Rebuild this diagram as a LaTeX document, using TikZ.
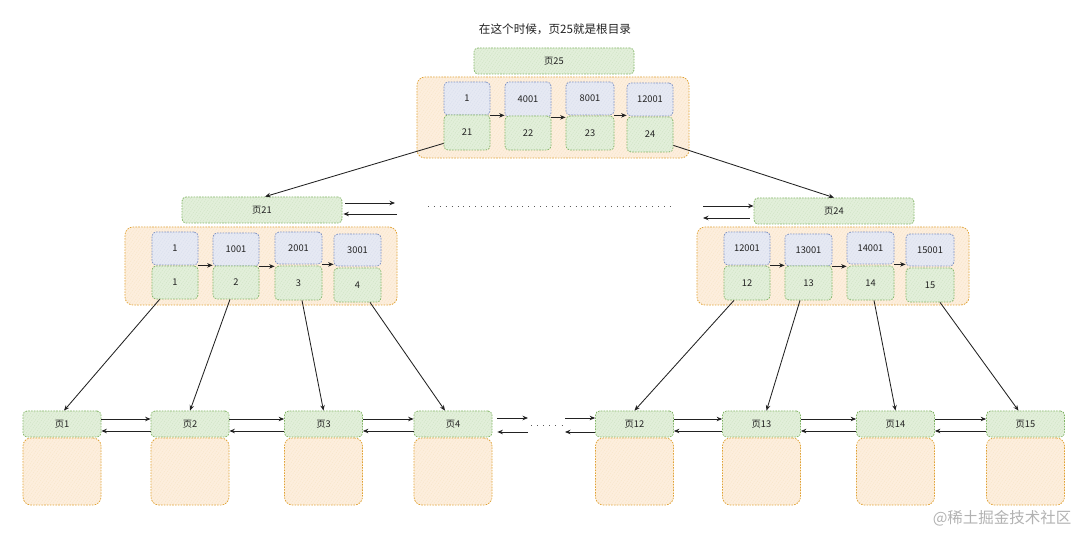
\documentclass[tikz,border=0pt]{standalone}
\usepackage{fontspec}
\setmainfont{Noto Sans CJK SC}
\usetikzlibrary{arrows.meta,patterns.meta}
\definecolor{gfill}{HTML}{E2EFDA}
\definecolor{gdraw}{HTML}{7FB362}
\definecolor{bfill}{HTML}{E6E9F3}
\definecolor{bdraw}{HTML}{7A8EC0}
\definecolor{ofill}{HTML}{FDEEDD}
\definecolor{odraw}{HTML}{E0A030}
\definecolor{ink}{HTML}{222222}
\tikzset{
  sk/.style={rounded corners=4pt,line width=0.75pt,dash pattern=on 1.6pt off 1.2pt,inner sep=0pt,font=\fontsize{9.3}{11}\selectfont,text=ink},
  gbox/.style={sk,draw=gdraw,fill=gfill,postaction={pattern={Lines[angle=55,distance=2.6pt,line width=0.35pt]},pattern color=gdraw!40}},
  bbox/.style={sk,draw=bdraw,fill=bfill,postaction={pattern={Lines[angle=55,distance=2.6pt,line width=0.35pt]},pattern color=bdraw!30}},
  obox/.style={sk,rounded corners=8pt,draw=odraw,fill=ofill,postaction={pattern={Lines[angle=55,distance=2.6pt,line width=0.35pt]},pattern color=odraw!28}},
  arr/.style={-{Stealth[length=5.5pt,width=4.5pt]},line width=0.85pt,draw=ink},
  dots/.style={line width=1pt,draw=black!65,dash pattern=on 1pt off 4.9pt},
}
\newcommand\bx[7]{\node[#1,minimum width=#5pt,minimum height=#6pt] (#2) at (#3,#4) {#7};}
\begin{document}
\begin{tikzpicture}[x=1pt,y=-1pt]
\useasboundingbox (0,0) rectangle (1080,534);
% title
\node[font=\fontsize{11.6}{13}\selectfont,text=ink] (title) at (555,29) {在这个时候，页25就是根目录};
% root page
\bx{gbox}{p25}{554}{61}{160}{26}{页25}
\bx{obox}{c0}{553}{117.5}{272}{81}{}
\bx{bbox}{k1}{467}{98.5}{46}{33}{1}
\bx{bbox}{k2}{528}{99.5}{46}{35}{4001}
\bx{bbox}{k3}{590}{98.5}{48}{33}{8001}
\bx{bbox}{k4}{650}{99.5}{46}{33}{12001}
\bx{gbox}{g21}{467}{132.5}{46}{35}{21}
\bx{gbox}{g22}{528}{133}{46}{34}{22}
\bx{gbox}{g23}{590}{133}{48}{34}{23}
\bx{gbox}{g24}{650}{134.5}{46}{35}{24}
\draw[arr] (k1.south east) -- (k1.south east -| k2.west);
\draw[arr] (k2.south east) -- (k2.south east -| k3.west);
\draw[arr] (k3.south east) -- (k3.south east -| k4.west);
% level 2 left
\bx{gbox}{p21}{262}{210}{160}{26}{页21}
\bx{obox}{cl}{261}{266}{272}{78}{}
\bx{bbox}{kl1}{175}{248.5}{46}{33}{1}
\bx{bbox}{kl2}{236}{249.5}{46}{33}{1001}
\bx{bbox}{kl3}{298.5}{248}{47}{32}{2001}
\bx{bbox}{kl4}{357.5}{250}{47}{32}{3001}
\bx{gbox}{gl1}{175}{282.5}{46}{33}{1}
\bx{gbox}{gl2}{236}{282.5}{46}{33}{2}
\bx{gbox}{gl3}{298.5}{283}{47}{34}{3}
\bx{gbox}{gl4}{357.5}{285}{47}{34}{4}
\draw[arr] (kl1.south east) -- (kl1.south east -| kl2.west);
\draw[arr] (kl2.south east) -- (kl2.south east -| kl3.west);
\draw[arr] (kl3.south east) -- (kl3.south east -| kl4.west);
% level 2 right
\bx{gbox}{p24}{834}{211}{160}{26}{页24}
\bx{obox}{cr}{833}{266}{272}{78}{}
\bx{bbox}{kr1}{747}{248.5}{46}{33}{12001}
\bx{bbox}{kr2}{808.5}{250}{47}{32}{13001}
\bx{bbox}{kr3}{870.5}{248}{47}{32}{14001}
\bx{bbox}{kr4}{930}{250}{48}{32}{15001}
\bx{gbox}{gr12}{747}{283}{46}{34}{12}
\bx{gbox}{gr13}{808.5}{283}{47}{34}{13}
\bx{gbox}{gr14}{870.5}{283}{47}{34}{14}
\bx{gbox}{gr15}{930}{285}{48}{34}{15}
\draw[arr] (kr1.south east) -- (kr1.south east -| kr2.west);
\draw[arr] (kr2.south east) -- (kr2.south east -| kr3.west);
\draw[arr] (kr3.south east) -- (kr3.south east -| kr4.west);
% side arrows level 2
\coordinate (l2a) at (395,203);
\coordinate (l2b) at (397,214);
\coordinate (r2a) at (703,206);
\coordinate (r2b) at (703,218);
\draw[arr] (p21.east |- l2a) ++(3,0) -- (l2a);
\draw[arr] (l2b) -- ([xshift=1pt]p21.east |- l2b);
\draw[arr] (r2a) -- (r2a -| p24.west);
\draw[arr] (r2b -| p24.west) ++(-4,0) -- (r2b);
\coordinate (d1) at (428,207);
\coordinate (d2) at (672,207);
\draw[dots] (d1) -- (d2);
% root to level 2
\draw[arr] ([yshift=7pt]g21.south west) -- ([xshift=3pt]p21.north);
\draw[arr] ([yshift=7pt]g24.south east) -- (p24.north);
% bottom pages
\foreach \n/\x in {1/62,2/190,3/323.5,4/453,12/634.5,13/761.5,14/895.5,15/1025.5}{
  \bx{gbox}{p\n}{\x}{424}{78}{26}{页\n}
  \bx{obox}{b\n}{\x}{471.5}{78}{67}{}
}
\foreach \a/\b in {1/2,2/3,3/4,12/13,13/14,14/15}{
  \draw[arr] ([yshift=5pt]p\a.east) -- ([yshift=5pt]p\a.east -| p\b.west);
  \draw[arr] ([yshift=-7pt]p\b.west) -- ([yshift=-7pt]p\b.west -| p\a.east);
}
\coordinate (ga) at (528,418);
\coordinate (gb) at (565,418);
\coordinate (gc) at (528,432);
\coordinate (gd) at (565,432);
\draw[arr] ([xshift=5pt]p4.east |- ga) -- (ga);
\draw[arr] (gb) -- (gb -| p12.west);
\draw[arr] (gc) -- ([xshift=5pt]p4.east |- gc);
\draw[arr] (gd -| p12.west) -- (gd);
\coordinate (e1) at (531,426);
\coordinate (e2) at (562,426);
\draw[dots,dash pattern=on 1pt off 5.1pt] (e1) -- (e2);
% level 2 to leaves
\draw[arr] ([xshift=8pt]gl1.south west) -- ([xshift=2pt]p1.north);
\draw[arr] ([xshift=-6pt]gl2.south) -- (p2.north);
\draw[arr] ([xshift=3.5pt]gl3.south) -- (p3.north);
\draw[arr] ([xshift=12.5pt]gl4.south) -- ([xshift=-8pt]p4.north);
\draw[arr] ([xshift=-13pt]gr12.south) -- (p12.north);
\draw[arr] ([xshift=-8.5pt]gr13.south) -- ([xshift=5pt]p13.north);
\draw[arr] ([xshift=3.5pt]gr14.south) -- (p14.north);
\draw[arr] ([xshift=10pt]gr15.south) -- ([xshift=-7pt]p15.north);
% watermark
\node[font=\fontsize{15.5}{17}\selectfont,text=black!30,anchor=east] (wm) at (1075,518) {@稀土掘金技术社区};
\end{tikzpicture}
\end{document}
